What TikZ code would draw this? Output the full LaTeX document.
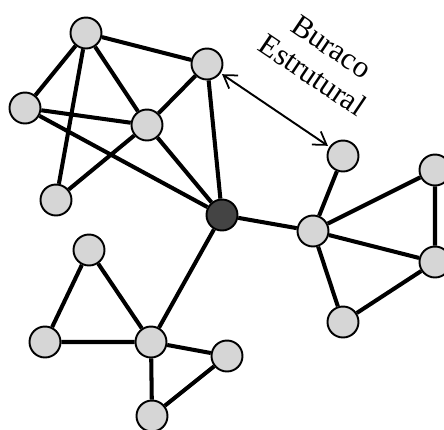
\documentclass[tikz,border=0pt]{standalone}
\usepackage{fontspec}
\setmainfont{Liberation Serif}
\usepackage{tikz}
\usetikzlibrary{arrows.meta}
\definecolor{nodefill}{HTML}{D6D6D6}
\definecolor{egofill}{HTML}{444444}

\begin{document}
\begin{tikzpicture}[x=0.02cm,y=-0.02cm,
  actor/.style={circle,draw=black,line width=1.1pt,fill=nodefill,
                minimum size=0.62cm,inner sep=0pt},
  ego/.style={actor,fill=egofill},
  tie/.style={line width=2.3pt,black},
  lbl/.style={font=\fontsize{17.5}{19.5}\selectfont,align=center,rotate=-34},
  >={Straight Barb[length=7pt,width=9pt,line width=1pt]}]
  \useasboundingbox (0,0) rectangle (444,430);
  % left cluster
  \node[actor] (a) at (86,33) {};
  \node[actor] (b) at (207,64) {};
  \node[actor] (c) at (25,108) {};
  \node[actor] (d) at (147,125) {};
  \node[actor] (e) at (56,200) {};
  % ego
  \node[ego] (x) at (222,215) {};
  % right cluster
  \node[actor] (f) at (343,156) {};
  \node[actor] (g) at (313,231) {};
  \node[actor] (h) at (435,170) {};
  \node[actor] (i) at (435,262) {};
  \node[actor] (j) at (343,322) {};
  % bottom cluster
  \node[actor] (k) at (89,250) {};
  \node[actor] (l) at (45,342) {};
  \node[actor] (m) at (151,342) {};
  \node[actor] (n) at (227,356) {};
  \node[actor] (o) at (152,416) {};
  \draw[tie] (a) -- (b) (a) -- (c) (a) -- (d) (a) -- (e)
             (c) -- (d) (c) -- (x) (e) -- (d) (d) -- (b)
             (d) -- (x) (b) -- (x);
  \draw[tie] (x) -- (g) (g) -- (f) (g) -- (h) (g) -- (i)
             (g) -- (j) (h) -- (i) (i) -- (j);
  \draw[tie] (x) -- (m) (k) -- (l) (k) -- (m) (l) -- (m)
             (m) -- (n) (m) -- (o) (n) -- (o);
  \draw[<->,line width=1.1pt,shorten <=1pt,shorten >=1pt] (b) -- (f);
  \node[lbl] (hole) at (322,61) {Buraco\\Estrutural};
\end{tikzpicture}
\end{document}
